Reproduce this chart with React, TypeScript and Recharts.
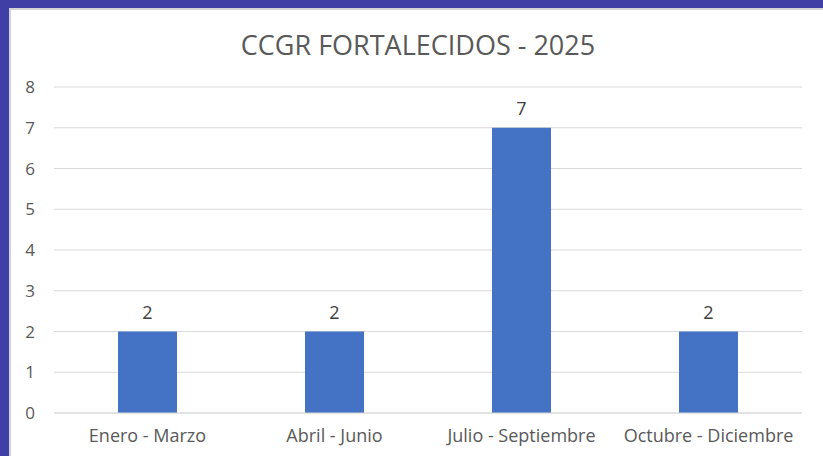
import React from 'react';
import { BarChart, Bar, XAxis, YAxis, CartesianGrid, LabelList } from 'recharts';

const categories = ['Enero - Marzo', 'Abril - Junio', 'Julio - Septiembre', 'Octubre - Diciembre'];
const values = [2, 2, 7, 2];
const yTicks = [0, 1, 2, 3, 4, 5, 6, 7, 8];

const data = categories.map((name, i) => ({ name, value: values[i] }));

const font = '"Open Sans", "Noto Sans", sans-serif';

export default function App() {
  return (
    <div style={{ position: 'fixed', left: 0, top: 0, width: 823, height: 456, background: '#3f3fa5', overflow: 'hidden' }}>
      <div style={{ position: 'absolute', left: 9, top: 8, right: 0, bottom: 0, background: '#d4d4d4' }} />
      <div style={{ position: 'absolute', left: 11, top: 10, right: 0, bottom: 0, background: '#ffffff' }} />
      <div
        style={{
          position: 'absolute',
          left: 0,
          width: 836,
          top: 27,
          textAlign: 'center',
          fontFamily: font,
          fontSize: 27,
          color: '#595959',
          lineHeight: '36px',
        }}
      >
        CCGR FORTALECIDOS - 2025
      </div>
      <div style={{ position: 'absolute', left: 0, top: 0 }}>
        <BarChart width={823} height={456} data={data} margin={{ top: 87, right: 21, bottom: 0, left: 0 }} barCategoryGap={64}>
          <CartesianGrid vertical={false} stroke="#d9d9d9" />
          <XAxis
            dataKey="name"
            height={43}
            axisLine={{ stroke: '#d9d9d9' }}
            tickLine={false}
            tickSize={0}
            tickMargin={16}
            tick={{ fill: '#595959', fontSize: 18, fontFamily: font }}
            interval={0}
          />
          <YAxis
            width={54}
            domain={[0, 8]}
            ticks={yTicks}
            axisLine={false}
            tickLine={false}
            tickSize={0}
            tickMargin={19}
            tick={{ fill: '#595959', fontSize: 17, fontFamily: font }}
          />
          <Bar dataKey="value" fill="#4472c4" isAnimationActive={false}>
            <LabelList dataKey="value" position="top" offset={13} fill="#404040" fontSize={18} fontFamily={font} />
          </Bar>
        </BarChart>
      </div>
    </div>
  );
}
